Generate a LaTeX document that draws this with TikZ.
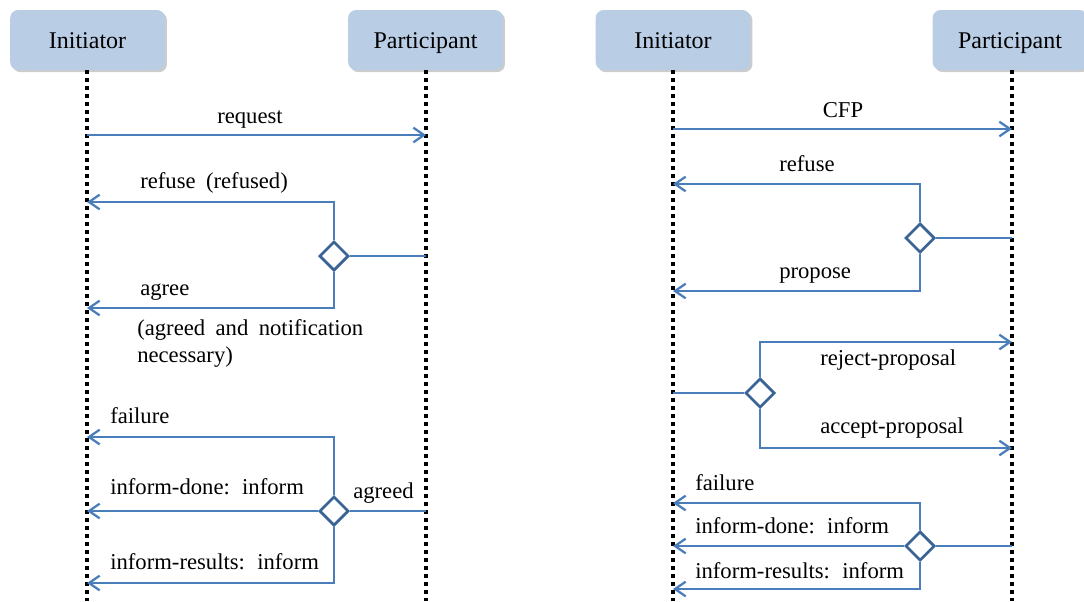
\documentclass[tikz,border=0pt]{standalone}
\usepackage{fontspec}
\setmainfont{Liberation Serif}
\usetikzlibrary{arrows.meta,shapes.geometric,shadows}
\definecolor{boxfill}{HTML}{B9CDE5}
\definecolor{msgblue}{HTML}{4A7EBB}
\definecolor{gateblue}{HTML}{3A6496}
\newcommand\msglabelfont{\fontsize{17}{20.25}\selectfont\spaceskip=0.46em plus 0.1em\relax}

\begin{document}
\begin{tikzpicture}[x=0.75pt,y=-0.75pt,
  actor/.style={rectangle, rounded corners=6pt, fill=boxfill, minimum width=116pt,
    minimum height=45pt, inner sep=0pt, text height=12pt, text depth=0pt,
    font=\fontsize{18}{21}\selectfont,
    drop shadow={shadow xshift=1.6pt, shadow yshift=-1.6pt, opacity=0.4}},
  lifeline/.style={line width=2.8pt, dash pattern=on 2.8pt off 3.2pt},
  msg/.style={draw=msgblue, line width=1.8pt},
  arr/.style={msg, -{Straight Barb[length=8pt,width=11pt,line width=1.7pt]}},
  gate/.style={diamond, draw=gateblue, fill=white, line width=2pt,
    minimum size=22pt, inner sep=0pt, aspect=1},
  lbl/.style={font=\msglabelfont, inner sep=0pt, anchor=base west},
]
\useasboundingbox (0,0) rectangle (1084,601);
\clip (0,0) rectangle (1084,601);

% ---------- request protocol ----------
\node[actor] (Linit) at (87.5,40) {Initiator};
\node[actor] (Lpart) at (425.5,40) {Participant};
\coordinate (LinitTop) at (87,70);   \coordinate (LinitEnd) at (87,601);
\coordinate (LpartTop) at (426,70);  \coordinate (LpartEnd) at (426,601);
\draw[lifeline] (LinitTop) -- (LinitEnd);
\draw[lifeline] (LpartTop) -- (LpartEnd);

% request
\coordinate (Li1) at (87,135); \coordinate (Lp1) at (426,135);
\draw[arr] (Li1) -- (Lp1);
\node[lbl, anchor=base] (Lreq) at (250,123) {request};

% refuse / agree
\node[gate] (Lg1) at (334,256) {};
\coordinate (Lp2) at (426,256);
\coordinate (Li2) at (87,202); \coordinate (Li3) at (87,308);
\draw[msg] (Lp2) -- (Lg1.east);
\draw[arr] (Lg1.north) |- (Li2);
\draw[arr] (Lg1.south) |- (Li3);
\node[lbl] (Lrefuse) at (140,188) {refuse (refused)};
\node[lbl] (Lagree) at (140,295) {agree};
\node[lbl] (Lagreed1) at (137,335) {(agreed and notification};
\node[lbl] (Lagreed2) at (137,362) {necessary)};

% failure / inform-done / inform-results
\node[gate] (Lg2) at (334,511) {};
\coordinate (Lp3) at (426,511);
\coordinate (Li4) at (87,437); \coordinate (Li5) at (87,511); \coordinate (Li6) at (87,583);
\draw[msg] (Lp3) -- (Lg2.east);
\draw[arr] (Lg2.north) |- (Li4);
\draw[arr] (Lg2.west) -- (Li5);
\draw[arr] (Lg2.south) |- (Li6);
\node[lbl] (Lfail) at (110,423) {failure};
\node[lbl] (Ldone) at (110,494) {inform-done: inform};
\node[lbl] (Lres) at (110,569) {inform-results: inform};
\node[lbl] (Lagreedlbl) at (353,498) {agreed};

% ---------- contract net protocol ----------
\node[actor] (Rinit) at (673,40) {Initiator};
\node[actor] (Rpart) at (1010,40) {Participant};
\coordinate (RinitTop) at (673,70);  \coordinate (RinitEnd) at (673,601);
\coordinate (RpartTop) at (1012,70); \coordinate (RpartEnd) at (1012,601);
\draw[lifeline] (RinitTop) -- (RinitEnd);
\draw[lifeline] (RpartTop) -- (RpartEnd);

% CFP
\coordinate (Ri1) at (673,129); \coordinate (Rp1) at (1012,129);
\draw[arr] (Ri1) -- (Rp1);
\node[lbl, anchor=base] (Rcfp) at (843,117) {CFP};

% refuse / propose
\node[gate] (Rg1) at (920,238) {};
\coordinate (Rp2) at (1012,238);
\coordinate (Ri2) at (673,184); \coordinate (Ri3) at (673,291);
\draw[msg] (Rp2) -- (Rg1.east);
\draw[arr] (Rg1.north) |- (Ri2);
\draw[arr] (Rg1.south) |- (Ri3);
\node[lbl] (Rrefuse) at (779,171) {refuse};
\node[lbl] (Rpropose) at (779,278) {propose};

% reject / accept
\node[gate] (Rg2) at (760,393) {};
\coordinate (Ri4) at (673,393);
\coordinate (Rp3) at (1012,342); \coordinate (Rp4) at (1012,448);
\draw[msg] (Ri4) -- (Rg2.west);
\draw[arr] (Rg2.north) |- (Rp3);
\draw[arr] (Rg2.south) |- (Rp4);
\node[lbl] (Rreject) at (820,365) {reject-proposal};
\node[lbl] (Raccept) at (820,433) {accept-proposal};

% failure / inform-done / inform-results
\node[gate] (Rg3) at (920,546) {};
\coordinate (Rp5) at (1012,546);
\coordinate (Ri5) at (673,503); \coordinate (Ri6) at (673,546); \coordinate (Ri7) at (673,589);
\draw[msg] (Rp5) -- (Rg3.east);
\draw[arr] (Rg3.north) |- (Ri5);
\draw[arr] (Rg3.west) -- (Ri6);
\draw[arr] (Rg3.south) |- (Ri7);
\node[lbl] (Rfail) at (695,490) {failure};
\node[lbl] (Rdone) at (695,533) {inform-done: inform};
\node[lbl] (Rres) at (695,578) {inform-results: inform};
\end{tikzpicture}
\end{document}
